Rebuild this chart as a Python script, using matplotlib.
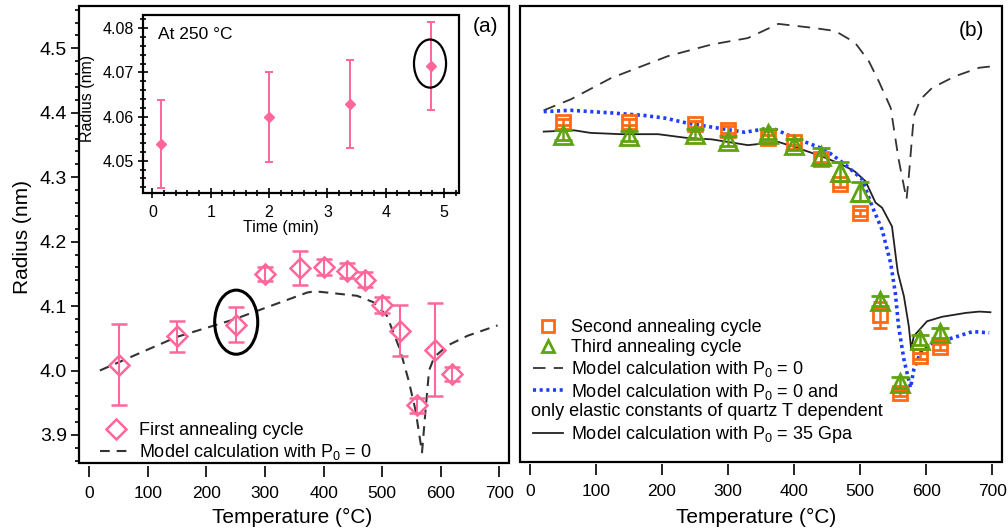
import matplotlib
matplotlib.use('Agg')
import matplotlib.pyplot as plt
from matplotlib.patches import Ellipse, Rectangle
from matplotlib.lines import Line2D
from matplotlib.ticker import MultipleLocator, FormatStrFormatter

plt.rcParams['font.family'] = ['Liberation Sans', 'DejaVu Sans']
plt.rcParams['mathtext.fontset'] = 'custom'
plt.rcParams['mathtext.rm'] = 'Liberation Sans'
plt.rcParams['mathtext.it'] = 'Liberation Sans:italic'
plt.rcParams['mathtext.bf'] = 'Liberation Sans:bold'
plt.rcParams['lines.scale_dashes'] = False

# ---------------- data: panel (a) ----------------
a_temp = [50, 150, 250, 300, 360, 400, 440, 470, 500, 530, 560, 590, 620]
a_radius = [4.009, 4.053, 4.071, 4.150, 4.159, 4.161, 4.155, 4.141, 4.102, 4.062, 3.946, 4.032, 3.995]
a_err = [0.063, 0.024, 0.027, 0.011, 0.027, 0.012, 0.012, 0.012, 0.012, 0.040, 0.012, 0.072, 0.011]

a_model_temp = [18, 149, 246, 372, 385, 457, 485, 508, 531, 545, 557, 568, 574, 580, 589, 612, 646, 697]
a_model_radius = [4.000, 4.052, 4.079, 4.121, 4.123, 4.116, 4.106, 4.085, 4.031, 3.985, 3.938, 3.873,
                  3.938, 4.000, 4.021, 4.039, 4.054, 4.070]

# inset (a): at 250 C
inset_time = [0.14, 1.99, 3.38, 4.78]
inset_radius = [4.0538, 4.0598, 4.0628, 4.0714]
inset_err = [0.0100, 0.0102, 0.0099, 0.0100]

# ---------------- data: panel (b) ----------------
b_temp = [50, 150, 250, 300, 360, 400, 440, 470, 500, 530, 560, 590, 620]
b_second = [4.386, 4.386, 4.383, 4.374, 4.361, 4.355, 4.329, 4.290, 4.245, 4.087, 3.966, 4.023, 4.037]
b_second_err = [0.005, 0.005, 0.005, 0.005, 0.005, 0.005, 0.005, 0.005, 0.005, 0.020, 0.005, 0.005, 0.005]
b_third = [4.366, 4.364, 4.367, 4.356, 4.367, 4.351, 4.333, 4.309, 4.278, 4.108, 3.982, 4.048, 4.059]
b_third_err = [0.008, 0.008, 0.008, 0.008, 0.008, 0.008, 0.012, 0.015, 0.015, 0.008, 0.008, 0.008, 0.008]

b_m0_temp = [21, 62, 123, 209, 275, 330, 376, 427, 462, 492, 513, 528, 546, 558, 570,
             573.5, 581, 591, 609, 644, 680, 697.5]
b_m0_radius = [4.404, 4.421, 4.454, 4.488, 4.506, 4.516, 4.538, 4.532, 4.527, 4.509, 4.480, 4.449,
               4.408, 4.328, 4.266, 4.302, 4.395, 4.421, 4.439, 4.457, 4.470, 4.472]

b_el_temp = [21, 62, 123, 173, 204, 239, 275, 325, 366, 401, 447, 477, 503, 518, 533, 546, 553,
             558, 566, 576, 581, 591, 609, 639, 670, 695]
b_el_radius = [4.402, 4.404, 4.400, 4.396, 4.392, 4.384, 4.378, 4.370, 4.377, 4.361, 4.343, 4.320,
               4.297, 4.255, 4.219, 4.167, 4.121, 4.069, 4.018, 3.974, 4.002, 4.028, 4.043, 4.051,
               4.061, 4.059]

b_p35_temp = [21, 67, 92, 138, 194, 239, 275, 330, 376, 401, 441, 472, 492, 508, 523, 533, 548,
              555, 557, 566, 573.5, 577, 581, 601, 624, 660, 680, 697]
b_p35_radius = [4.371, 4.373, 4.369, 4.367, 4.367, 4.361, 4.359, 4.350, 4.355, 4.347, 4.333, 4.320,
                4.309, 4.294, 4.261, 4.253, 4.224, 4.167, 4.152, 4.116, 4.069, 4.034, 4.054, 4.077,
                4.084, 4.090, 4.092, 4.091]

x_ticks = [0, 100, 200, 300, 400, 500, 600, 700]
a_y_ticks = [3.9, 4.0, 4.1, 4.2, 4.3, 4.4, 4.5]
inset_x_ticks = [0, 1, 2, 3, 4, 5]
inset_y_ticks = [4.05, 4.06, 4.07, 4.08]

PINK = '#FF6699'
ORANGE = '#FF6A13'
GREEN = '#5FA30F'
BLUE = '#1F3DFF'
DARK = '#333333'

W, H = 1008, 530
fig = plt.figure(figsize=(W / 100, H / 100), dpi=100)


def px_rect(l, t, r, b):
    return [l / W, 1 - b / H, (r - l) / W, (b - t) / H]


def frame(ax, lw=1.6):
    for s in ax.spines.values():
        s.set_visible(False)
    ax.add_patch(Rectangle((0, 0), 1, 1, transform=ax.transAxes, fill=False,
                           lw=lw, ec='black', clip_on=False, zorder=10))


# ---------------- panel (a) ----------------
axA = fig.add_axes(px_rect(79, 6, 508.7, 463.3))
frame(axA)
axA.spines['bottom'].set_position(('outward', 2))
axA.set_xlim(-17.6, 716)
axA.set_ylim(3.856, 4.5657)
axA.set_xticks(x_ticks)
axA.set_yticks(a_y_ticks)
axA.yaxis.set_major_formatter(FormatStrFormatter('%.1f'))
axA.yaxis.set_minor_locator(MultipleLocator(0.02))
axA.tick_params(axis='y', which='major', direction='out', length=5.5, width=1.2,
                labelsize=14, pad=3, right=False)
axA.tick_params(axis='y', which='minor', direction='out', length=3, width=1.2, right=False)
axA.tick_params(axis='x', which='major', direction='out', length=8, width=1.2,
                labelsize=12.5, pad=6, top=False)

axA.plot(a_model_temp, a_model_radius, color=DARK, lw=1.5, ls=(0, (7, 5)), zorder=2)
axA.errorbar(a_temp, a_radius, yerr=a_err, fmt='D', ms=10.5, mfc='none', mec=PINK, mew=1.8,
             ecolor=PINK, elinewidth=1.5, capsize=6, capthick=1.5, zorder=3)
axA.add_patch(Ellipse((250.8, 4.075), 73.5, 0.0995, fill=False, ec='black', lw=2.2, zorder=4))

legA_handles = [
    Line2D([], [], marker='D', ls='none', ms=10.5, mfc='none', mec=PINK, mew=1.8),
    Line2D([], [], color=DARK, lw=1.5, ls=(0, (7, 5))),
]
legA_labels = ['First annealing cycle', 'Model calculation with P$_0$ = 0']
axA.legend(legA_handles, legA_labels, loc='lower left',
           bbox_to_anchor=(100 / W, 1 - 462 / H), bbox_transform=fig.transFigure,
           frameon=False, fontsize=13, handlelength=1.78, handletextpad=0.4,
           borderpad=0, borderaxespad=0, labelspacing=0.15)

# ---------------- inset ----------------
axI = fig.add_axes(px_rect(142.7, 15, 459, 192.7))
axI.set_facecolor('white')
frame(axI, lw=1.6)
axI.set_xlim(-0.168, 5.257)
axI.set_ylim(4.04275, 4.0830)
axI.set_xticks(inset_x_ticks)
axI.set_yticks(inset_y_ticks)
axI.yaxis.set_major_formatter(FormatStrFormatter('%.2f'))
axI.xaxis.set_minor_locator(MultipleLocator(0.2))
axI.yaxis.set_minor_locator(MultipleLocator(0.002))
axI.tick_params(axis='both', which='major', direction='inout', length=7, width=1.2,
                labelsize=11.5, top=False, right=False)
axI.tick_params(axis='both', which='minor', direction='inout', length=4.5, width=1.2,
                top=False, right=False)
axI.tick_params(axis='y', pad=3)
axI.tick_params(axis='x', pad=5)
axI.errorbar(inset_time, inset_radius, yerr=inset_err, fmt='D', ms=5, mfc=PINK, mec=PINK,
             ecolor=PINK, elinewidth=1.4, capsize=3, capthick=1.4, zorder=3)
axI.add_patch(Ellipse((4.76, 4.072), 0.55, 0.0109, fill=False, ec='black', lw=1.6, zorder=4))

fig.text(158 / W, 1 - 39.3 / H, 'At 250 °C', fontsize=12.5, va='baseline', ha='left')
fig.text(280.7 / W, 1 - 231.5 / H, 'Time (min)', fontsize=11.5, va='baseline', ha='center')
fig.text(87.5 / W, 1 - 98.3 / H, 'Radius (nm)', fontsize=11.5, va='center', ha='center',
         rotation=90)

# ---------------- panel (b) ----------------
axB = fig.add_axes(px_rect(519.5, 6, 1001.7, 461.7))
frame(axB)
axB.spines['bottom'].set_position(('outward', 2))
axB.set_xlim(-15.6, 714)
axB.set_ylim(3.8593, 4.5657)
axB.set_xticks(x_ticks)
axB.set_yticks([])
axB.tick_params(axis='x', which='major', direction='out', length=8, width=1.2,
                labelsize=12.5, pad=6, top=False)

axB.plot(b_m0_temp, b_m0_radius, color=DARK, lw=1.3, ls=(0, (9, 6)), zorder=2)
axB.plot(b_p35_temp, b_p35_radius, color='#222222', lw=1.3, zorder=2)
axB.plot(b_el_temp, b_el_radius, color=BLUE, lw=2.6, ls=(0, (2.2, 2.6)), zorder=2)
axB.errorbar(b_temp, b_second, yerr=b_second_err, fmt='s', ms=9.5, mfc='none', mec=ORANGE,
             mew=2.0, ecolor=ORANGE, elinewidth=1.8, capsize=5, capthick=1.8, zorder=3)
axB.errorbar(b_temp, b_third, yerr=b_third_err, fmt='^', ms=12.5, mfc='none', mec=GREEN,
             mew=2.0, ecolor=GREEN, elinewidth=1.8, capsize=6.5, capthick=1.8, zorder=4)

legB_handles = [
    Line2D([], [], marker='s', ls='none', ms=8.5, mfc='none', mec=ORANGE, mew=2.0),
    Line2D([], [], marker='^', ls='none', ms=9, mfc='none', mec=GREEN, mew=2.0),
    Line2D([], [], color=DARK, lw=1.3, ls=(0, (9, 6))),
    Line2D([], [], color=BLUE, lw=2.6, ls=(0, (2.2, 2.6))),
    Line2D([], [], color='none', lw=0),
    Line2D([], [], color='#222222', lw=1.3),
]
legB_labels = ['Second annealing cycle', 'Third annealing cycle',
               'Model calculation with P$_0$ = 0',
               'Model calculation with P$_0$ = 0 and', ' ',
               'Model calculation with P$_0$ = 35 Gpa']
axB.legend(legB_handles, legB_labels, loc='lower left',
           bbox_to_anchor=(533 / W, 1 - 445 / H), bbox_transform=fig.transFigure,
           frameon=False, fontsize=13, handlelength=1.67, handletextpad=0.45,
           borderpad=0, borderaxespad=0, labelspacing=0.15)
fig.text(530.7 / W, 1 - 416.5 / H, 'only elastic constants of quartz T dependent',
         fontsize=13, va='baseline', ha='left')

# axis labels and panel tags
fig.text(292 / W, 1 - 523.3 / H, 'Temperature (°C)', fontsize=15, va='baseline', ha='center')
fig.text(756 / W, 1 - 523.3 / H, 'Temperature (°C)', fontsize=15, va='baseline', ha='center')
fig.text(23 / W, 1 - 237 / H, 'Radius (nm)', fontsize=15, va='center', ha='center', rotation=90)
fig.text(485 / W, 1 - 27 / H, '(a)', fontsize=15, va='center', ha='center')
fig.text(971 / W, 1 - 30 / H, '(b)', fontsize=15, va='center', ha='center')

fig.savefig('out.png', dpi=100)
